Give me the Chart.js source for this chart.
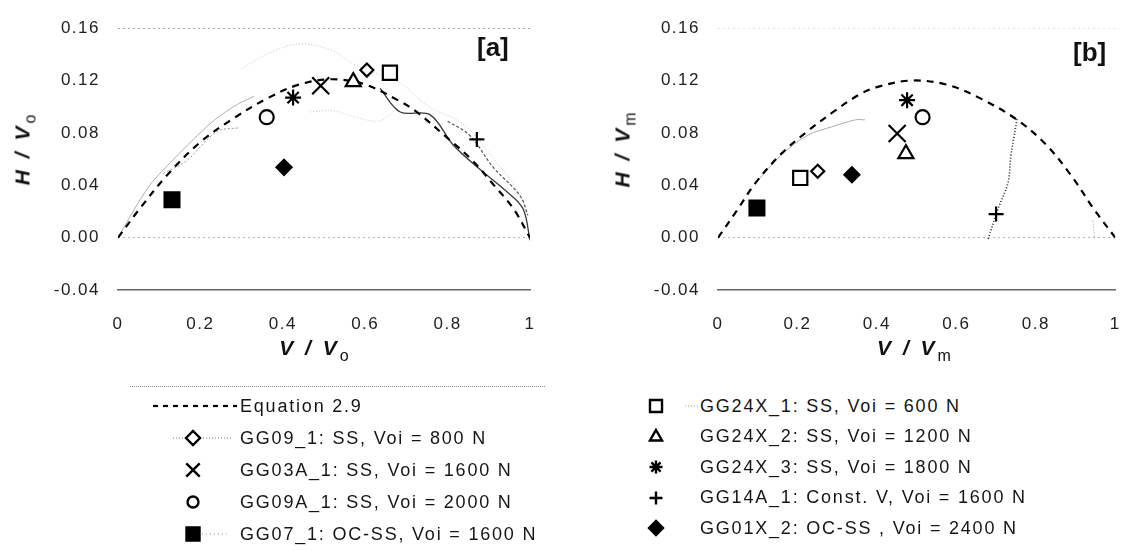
<!DOCTYPE html>
<html>
<head>
<meta charset="utf-8">
<script src="https://cdn.jsdelivr.net/npm/chart.js@4.4.1/dist/chart.umd.min.js"></script>
<style>
  html, body { margin: 0; padding: 0; background: #fff; }
  body { width: 1136px; height: 551px; position: relative; overflow: hidden;
         font-family: "Liberation Sans", Arial, sans-serif; color: #111; }
  .panel { position: absolute; top: 0; height: 372px; }
  #panelA { left: 0; width: 560px; }
  #panelB { left: 600px; width: 536px; }
  .axtitle { position: absolute; font-weight: bold; font-style: italic; font-size: 21px;
             letter-spacing: 3px; white-space: nowrap; transform: translate(-50%, -50%); }
  .axtitle.y { transform: translate(-50%, -50%) rotate(-90deg); }
  .axtitle sub { font-style: normal; font-weight: normal; font-size: 16px; vertical-align: -6px; letter-spacing: 0; }
  .tag { position: absolute; font-size: 26px; font-weight: bold; line-height: 1; }
  .legend-row { position: absolute; height: 26px; display: flex; align-items: center;
                white-space: nowrap; font-size: 18px; letter-spacing: 1.8px; color: #151515; }
  .legend-row canvas { display: block; }
  .legend-rule { position: absolute; border-top: 1px dotted #888; height: 0; }
</style>
</head>
<body>
<div class="panel" id="panelA"><canvas id="chartA"></canvas></div>
<div class="panel" id="panelB"><canvas id="chartB"></canvas></div>

<div class="axtitle y" style="left:25px; top:150px;">H / V<sub>o</sub></div>
<div class="axtitle" style="left:314px; top:350px;">V / V<sub>o</sub></div>
<div class="axtitle y" style="left:625px; top:150px;">H / V<sub>m</sub></div>
<div class="axtitle" style="left:914px; top:350px;">V / V<sub>m</sub></div>
<div class="tag" style="left:477px; top:34px;">[a]</div>
<div class="tag" style="left:1073px; top:39px;">[b]</div>
<div class="legend-rule" style="left:130px; top:386px; width:415px;"></div>
<div id="legend"></div>

<script>
// axis tick labels
const xTickLabels = ['0', '0.2', '0.4', '0.6', '0.8', '1'];
const yTickLabels = ['-0.04', '0.00', '0.04', '0.08', '0.12', '0.16'];

// test series (same order in both panels)
const seriesNames = [
  'GG09_1: SS, Voi = 800 N',
  'GG03A_1: SS, Voi = 1600 N',
  'GG09A_1: SS, Voi = 2000 N',
  'GG07_1: OC-SS, Voi = 1600 N',
  'GG24X_1: SS, Voi = 600 N',
  'GG24X_2: SS, Voi = 1200 N',
  'GG24X_3: SS, Voi = 1800 N',
  'GG14A_1: Const. V, Voi = 1600 N',
  'GG01X_2: OC-SS , Voi = 2400 N'
];

// panel a: V/Vo and H/Vo at peak
const vA = [0.604, 0.492, 0.361, 0.131, 0.660, 0.571, 0.425, 0.871, 0.403];
const hA = [0.128, 0.116, 0.092, 0.029, 0.126, 0.119, 0.107, 0.075, 0.0537];

// panel b: V/Vm and H/Vm at peak
const vB = [0.251, 0.451, 0.515, 0.098, 0.207, 0.473, 0.476, 0.700, 0.337];
const hB = [0.0507, 0.0796, 0.092, 0.0226, 0.0456, 0.064, 0.105, 0.018, 0.048];

// Equation 2.9
const eqLabel = 'Equation 2.9';
const eqA = [[0, 0], [0.05, 0.021], [0.12, 0.048], [0.20, 0.073], [0.28, 0.091], [0.36, 0.106],
             [0.44, 0.117], [0.52, 0.121], [0.60, 0.117], [0.685, 0.104], [0.725, 0.096],
             [0.80, 0.076], [0.86, 0.059], [0.91, 0.041], [0.96, 0.022], [1.0, 0.0]];
const eqB = [[0, 0], [0.046, 0.020], [0.095, 0.042], [0.159, 0.064], [0.224, 0.081], [0.29, 0.096],
             [0.354, 0.109], [0.40, 0.115], [0.485, 0.120], [0.574, 0.117], [0.663, 0.106],
             [0.753, 0.090], [0.826, 0.071], [0.89, 0.047], [0.948, 0.021], [1.0, 0.0]];

// loading paths (faint traces behind the markers)
const trailA1 = [[0.30, 0.129], [0.36, 0.140], [0.44, 0.148], [0.52, 0.143], [0.57, 0.133],
                 [0.63, 0.125], [0.685, 0.118], [0.75, 0.101], [0.84, 0.086], [0.92, 0.057],
                 [0.976, 0.032], [1.0, 0.0]];
const trailA2 = [[0, 0], [0.07, 0.037], [0.12, 0.055], [0.22, 0.086], [0.28, 0.100], [0.33, 0.108]];
const trailA3 = [[0.11, 0.049], [0.167, 0.059], [0.24, 0.081], [0.296, 0.084]];
const trailA4 = [[0.466, 0.096], [0.52, 0.097], [0.63, 0.089], [0.68, 0.099]];
const trailA5 = [[0.636, 0.114], [0.685, 0.096], [0.757, 0.094], [0.813, 0.071], [0.879, 0.052],
                 [0.944, 0.035], [0.983, 0.022], [1.0, -0.002]];
const trailA6 = [[0.80, 0.089], [0.854, 0.078], [0.91, 0.054], [0.976, 0.032], [0.995, 0.017]];
const trailB1 = [[0.095, 0.042], [0.159, 0.063], [0.224, 0.078], [0.29, 0.085], [0.346, 0.090], [0.37, 0.090]];
const trailB2 = [[0.68, -0.001], [0.705, 0.022], [0.73, 0.042], [0.737, 0.062], [0.745, 0.077], [0.753, 0.091]];
const trailB3 = [[0.944, 0.013], [0.948, 0.0]];

// marker look for each series
const markers = [
  { pointStyle: 'rectRot', radius: 6.5, fill: '#fff' },
  { pointStyle: 'crossRot', radius: 12, fill: '#000' },
  { pointStyle: 'circle', radius: 7, fill: '#fff' },
  { pointStyle: 'rect', radius: 10.5, fill: '#000' },
  { pointStyle: 'rect', radius: 10, fill: '#fff' },
  { pointStyle: 'triangle', radius: 8.7, fill: '#fff' },
  { pointStyle: 'star', radius: 8, fill: '#000' },
  { pointStyle: 'cross', radius: 7.5, fill: '#000' },
  { pointStyle: 'rectRot', radius: 7.5, fill: '#000' }
];

const toXY = pairs => pairs.map(p => ({ x: p[0], y: p[1] }));

function markerSets(vs, hs) {
  return seriesNames.map((name, i) => ({
    label: name,
    data: [{ x: vs[i], y: hs[i] }],
    pointStyle: markers[i].pointStyle,
    pointRadius: markers[i].radius,
    pointBackgroundColor: markers[i].fill,
    pointBorderColor: '#000',
    pointBorderWidth: 2.2,
    showLine: false
  }));
}

function lineSet(label, pairs, color, width, dash) {
  return {
    label: label,
    data: toXY(pairs),
    showLine: true,
    borderColor: color,
    borderWidth: width,
    borderDash: dash,
    pointRadius: 0,
    tension: 0.35,
    fill: false
  };
}

const spacingPlugin = {
  id: 'spacing',
  beforeDraw(chart) { chart.ctx.letterSpacing = '1.5px'; }
};

function makeChart(id, datasets, topLineColor) {
  return new Chart(document.getElementById(id), {
    type: 'scatter',
    data: { datasets: datasets },
    plugins: [spacingPlugin],
    options: {
      responsive: true,
      maintainAspectRatio: false,
      animation: false,
      layout: { padding: { top: 20, right: id === 'chartA' ? 30 : 8, left: 0, bottom: 0 } },
      plugins: { legend: { display: false }, tooltip: { enabled: false } },
      scales: {
        x: {
          type: 'linear', min: 0, max: 1,
          afterFit: s => { s.height = 82; },
          grid: { display: false },
          border: { display: true, color: '#666', width: 1.5 },
          ticks: {
            stepSize: 0.2, padding: 16, color: '#222',
            font: { family: 'Liberation Sans, Arial, sans-serif', size: 17 },
            callback: (v, i) => xTickLabels[i]
          }
        },
        y: {
          type: 'linear', min: -0.04, max: 0.16,
          afterFit: s => { s.width = 118; },
          grid: {
            drawTicks: false,
            lineWidth: 1,
            color: c => {
              if (!c.tick) return 'rgba(0,0,0,0)';
              if (Math.abs(c.tick.value - 0.16) < 1e-6) return topLineColor;
              if (Math.abs(c.tick.value) < 1e-6) return '#b5b5b5';
              return 'rgba(0,0,0,0)';
            }
          },
          border: { display: false, dash: [2, 3] },
          ticks: {
            stepSize: 0.04, padding: 18, color: '#222',
            font: { family: 'Liberation Sans, Arial, sans-serif', size: 17 },
            callback: (v, i) => yTickLabels[i]
          }
        }
      }
    }
  });
}

makeChart('chartA', [
  ...markerSets(vA, hA),
  lineSet(eqLabel, eqA, '#000', 2.2, [7, 6]),
  lineSet('trace', trailA5, '#3a3a3a', 1.3, []),
  lineSet('trace', trailA6, '#555', 1.2, [3, 2]),
  lineSet('trace', trailA1, '#c4c4c4', 1, [1, 2]),
  lineSet('trace', trailA2, '#b0b0b0', 1, []),
  lineSet('trace', trailA3, '#999', 1, [2, 2]),
  lineSet('trace', trailA4, '#c8c8c8', 1, [1, 2])
], '#a8a8a8');

makeChart('chartB', [
  ...markerSets(vB, hB),
  lineSet(eqLabel, eqB, '#000', 2.2, [7, 6]),
  lineSet('trace', trailB2, '#222', 1.6, [1, 2]),
  lineSet('trace', trailB1, '#aaa', 1, []),
  lineSet('trace', trailB3, '#999', 1, [1, 2])
], '#e2e2e2');

// legend: two columns under the panels
const legendLeft = [
  { text: eqLabel, line: { from: 13, to: 97, dash: [5, 5], width: 2.2, color: '#000' } },
  { series: 0, radius: 7, line: { from: 33, to: 93, dash: [1, 2], width: 1, color: '#777' } },
  { series: 1, radius: 9.5 },
  { series: 2, radius: 5.5 },
  { series: 3, radius: 9.2, line: { from: 62, to: 88, dash: [1, 3], width: 1, color: '#999' } }
];
const legendRight = [
  { series: 4, radius: 8.5, line: { from: 85, to: 98, dash: [1, 2], width: 1, color: '#999' } },
  { series: 5, radius: 7 },
  { series: 6, radius: 6.5 },
  { series: 7, radius: 6.5 },
  { series: 8, radius: 7 }
];

function addLegendColumn(items, left, markerX, top, step) {
  const host = document.getElementById('legend');
  items.forEach((it, k) => {
    const row = document.createElement('div');
    row.className = 'legend-row';
    row.style.left = left + 'px';
    row.style.top = (top + k * step - 13) + 'px';
    const icon = document.createElement('canvas');
    icon.width = 100; icon.height = 26;
    const g = icon.getContext('2d');
    if (it.line) {
      g.setLineDash(it.line.dash);
      g.strokeStyle = it.line.color;
      g.lineWidth = it.line.width;
      g.beginPath(); g.moveTo(it.line.from, 13); g.lineTo(it.line.to, 13); g.stroke();
      g.setLineDash([]);
    }
    if (it.series !== undefined) {
      const m = markers[it.series];
      g.fillStyle = m.fill; g.strokeStyle = '#000'; g.lineWidth = 2.4;
      Chart.helpers.drawPoint(g, { pointStyle: m.pointStyle, radius: it.radius, rotation: 0, borderWidth: 2.4 }, markerX, 13);
    }
    const label = document.createElement('span');
    label.textContent = it.text || seriesNames[it.series];
    row.appendChild(icon);
    row.appendChild(label);
    host.appendChild(row);
  });
}

addLegendColumn(legendLeft, 140, 53, 406, 32);
addLegendColumn(legendRight, 600, 56, 406, 30.5);
</script>
</body>
</html>
